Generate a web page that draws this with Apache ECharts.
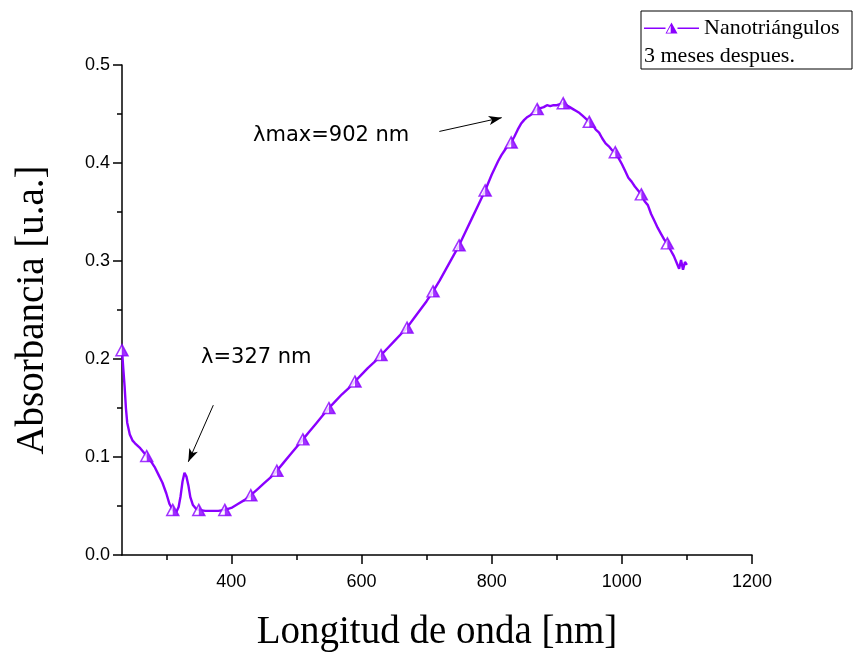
<!DOCTYPE html>
<html>
<head>
<meta charset="utf-8">
<script src="https://cdn.jsdelivr.net/npm/echarts@6/dist/echarts.min.js"></script>
<style>
html,body{margin:0;padding:0;background:#ffffff;}
#chart{width:858px;height:657px;}
</style>
</head>
<body>
<div id="chart"></div>
<script>
// ---- data ----
const wavelengths = [232,234,236,238,240,244,248,252,260,270,276,282,288,294,300,305,310,315,319,322,325,328,331,334,337,341,346,350,360,370,380,390,400,410,420,430,440,450,460,470,480,490,500,510,520,530,540,550,560,570,580,590,600,610,620,630,640,650,660,670,680,690,700,710,720,730,740,750,760,770,780,790,800,810,815,820,825,830,835,840,845,850,855,860,865,870,875,880,885,890,895,900,905,910,915,920,925,930,935,940,945,950,955,960,965,970,975,980,985,990,995,1000,1005,1010,1015,1020,1025,1030,1035,1040,1045,1048,1050,1055,1060,1065,1070,1075,1080,1085,1088,1091,1094,1097,1100];
const absorbance = [0.209,0.190,0.172,0.150,0.135,0.123,0.117,0.114,0.109,0.101,0.096,0.090,0.082,0.074,0.063,0.052,0.046,0.043,0.049,0.060,0.075,0.084,0.080,0.071,0.059,0.051,0.047,0.046,0.045,0.045,0.045,0.046,0.048,0.052,0.056,0.061,0.067,0.073,0.079,0.086,0.094,0.102,0.110,0.118,0.126,0.134,0.142,0.150,0.157,0.164,0.170,0.177,0.184,0.191,0.197,0.204,0.211,0.218,0.225,0.232,0.241,0.250,0.259,0.269,0.280,0.292,0.304,0.316,0.330,0.344,0.358,0.372,0.388,0.402,0.408,0.413,0.418,0.421,0.427,0.434,0.440,0.444,0.447,0.449,0.452,0.455,0.456,0.457,0.459,0.458,0.459,0.459,0.460,0.461,0.459,0.457,0.455,0.453,0.451,0.448,0.445,0.442,0.439,0.434,0.431,0.425,0.420,0.417,0.413,0.411,0.405,0.399,0.392,0.385,0.381,0.376,0.372,0.368,0.361,0.357,0.348,0.350,0.341,0.334,0.328,0.322,0.318,0.311,0.305,0.297,0.292,0.301,0.291,0.299,0.296];
const markerWavelengths = [232,270,310,350,390,430,470,510,550,590,630,670,710,750,790,830,870,910,950,990,1030,1070];

const xTickLabels = [400,600,800,1000,1200];
const xMinorTicks = [300,500,700,900,1100];
const yTickLabels = [0,0.1,0.2,0.3,0.4,0.5];

const seriesName = 'Nanotriángulos';
const legendNote = '3 meses despues.';
const xTitle = 'Longitud de onda [nm]';
const yTitle = 'Absorbancia [u.a.]';
const annotationMax = 'λmax=902 nm';
const annotationPeak = 'λ=327 nm';
// arrow endpoints in data coordinates [nm, absorbance]
const arrowMax = [[719.6,0.4322],[815.4,0.4463]];
const arrowPeak = [[372.3,0.1529],[333.9,0.0951]];

// ---- build ----
const PURPLE = '#8a00ff';
const lineData = wavelengths.map((w,i)=>[w,absorbance[i]]);
const lookup = {};
wavelengths.forEach((w,i)=>{lookup[w]=absorbance[i];});
const markerData = markerWavelengths.map(w=>[w,lookup[w]]);

const serifFont = '"Liberation Serif","Times New Roman",serif';
const sansFont = '"Liberation Sans",Arial,sans-serif';

const legendIcon = 'path://M0,5.1 L21.5,5.1 L21.5,6.5 L0,6.5 Z M33.5,5.1 L55,5.1 L55,6.5 L33.5,6.5 Z M27.5,0 L33.5,11 L27.5,11 Z M27.5,0 L27.5,11 L21.5,11 Z M26.7,3.2 L22.9,10.2 L26.7,10.2 Z';

const chart = echarts.init(document.getElementById('chart'), null, {renderer:'canvas'});
chart.setOption({
  animation:false,
  backgroundColor:'#ffffff',
  grid:{left:122, top:65, right:106, bottom:96},
  legend:{
    left:644, top:17, padding:0,
    itemWidth:55, itemHeight:11,
    data:[{name:seriesName, icon:legendIcon}],
    textStyle:{fontFamily:serifFont, fontSize:22, color:'#000'}
  },
  xAxis:[{
    type:'value', min:232, max:1200, position:'bottom',
    name:xTitle, nameLocation:'middle', nameGap:58,
    nameTextStyle:{fontFamily:serifFont, fontSize:39, color:'#000'},
    axisLine:{show:true, onZero:false, lineStyle:{color:'#000', width:1.5}},
    axisTick:{show:true, customValues:xTickLabels, length:9, lineStyle:{color:'#000', width:1.5}},
    axisLabel:{show:true, customValues:xTickLabels, margin:18, fontFamily:sansFont, fontSize:18, color:'#000', formatter:v=>String(v)},
    splitLine:{show:false}
  },{
    type:'value', min:232, max:1200, position:'bottom',
    axisLine:{show:false},
    axisTick:{show:true, customValues:xMinorTicks, length:5, lineStyle:{color:'#000', width:1.5}},
    axisLabel:{show:false},
    splitLine:{show:false}
  }],
  yAxis:{
    type:'value', min:0, max:0.5, interval:0.1,
    name:yTitle, nameLocation:'middle', nameGap:70,
    nameTextStyle:{fontFamily:serifFont, fontSize:39, color:'#000'},
    axisLine:{show:true, lineStyle:{color:'#000', width:1.5}},
    axisTick:{show:true, length:9, lineStyle:{color:'#000', width:1.5}},
    minorTick:{show:true, splitNumber:2, length:5, lineStyle:{color:'#000', width:1.5}},
    axisLabel:{margin:12, fontFamily:sansFont, fontSize:18, color:'#000', formatter:v=>v.toFixed(1)},
    splitLine:{show:false}
  },
  series:[{
    name:seriesName, type:'line', data:lineData,
    showSymbol:false, symbol:'none', smooth:false,
    color:PURPLE,
    lineStyle:{color:PURPLE, width:2.4},
    z:2,
    markLine:{
      silent:true, symbol:['none','arrow'], symbolSize:[7,13],
      lineStyle:{color:'#000', width:1, type:'solid'},
      label:{show:false},
      emphasis:{disabled:true},
      data:[
        [{coord:arrowMax[0]},{coord:arrowMax[1]}],
        [{coord:arrowPeak[0]},{coord:arrowPeak[1]}]
      ]
    }
  },{
    name:'markers-outline', type:'scatter', data:markerData,
    symbol:'triangle', symbolSize:[12,11],
    itemStyle:{color:'#ffffff', borderColor:PURPLE, borderWidth:1.5},
    z:3, silent:true
  },{
    name:'markers-fill', type:'scatter', data:markerData,
    symbol:'path://M0,0 L6,11 L0,11 Z', symbolSize:[6,11], symbolOffset:[3,0],
    itemStyle:{color:PURPLE},
    z:4, silent:true
  }],
  graphic:[
    {type:'rect', shape:{x:641, y:11, width:211, height:58}, style:{fill:'none', stroke:'#000', lineWidth:1}, silent:true},
    {type:'text', x:644, y:56, style:{text:legendNote, font:'22px '+serifFont, fill:'#000', verticalAlign:'middle'}},
    {type:'text', x:253, y:136, style:{text:annotationMax, font:'21px "DejaVu Sans",sans-serif', fill:'#000', verticalAlign:'middle'}},
    {type:'text', x:201, y:358, style:{text:annotationPeak, font:'21px "DejaVu Sans",sans-serif', fill:'#000', verticalAlign:'middle'}}
  ]
});
</script>
</body>
</html>
